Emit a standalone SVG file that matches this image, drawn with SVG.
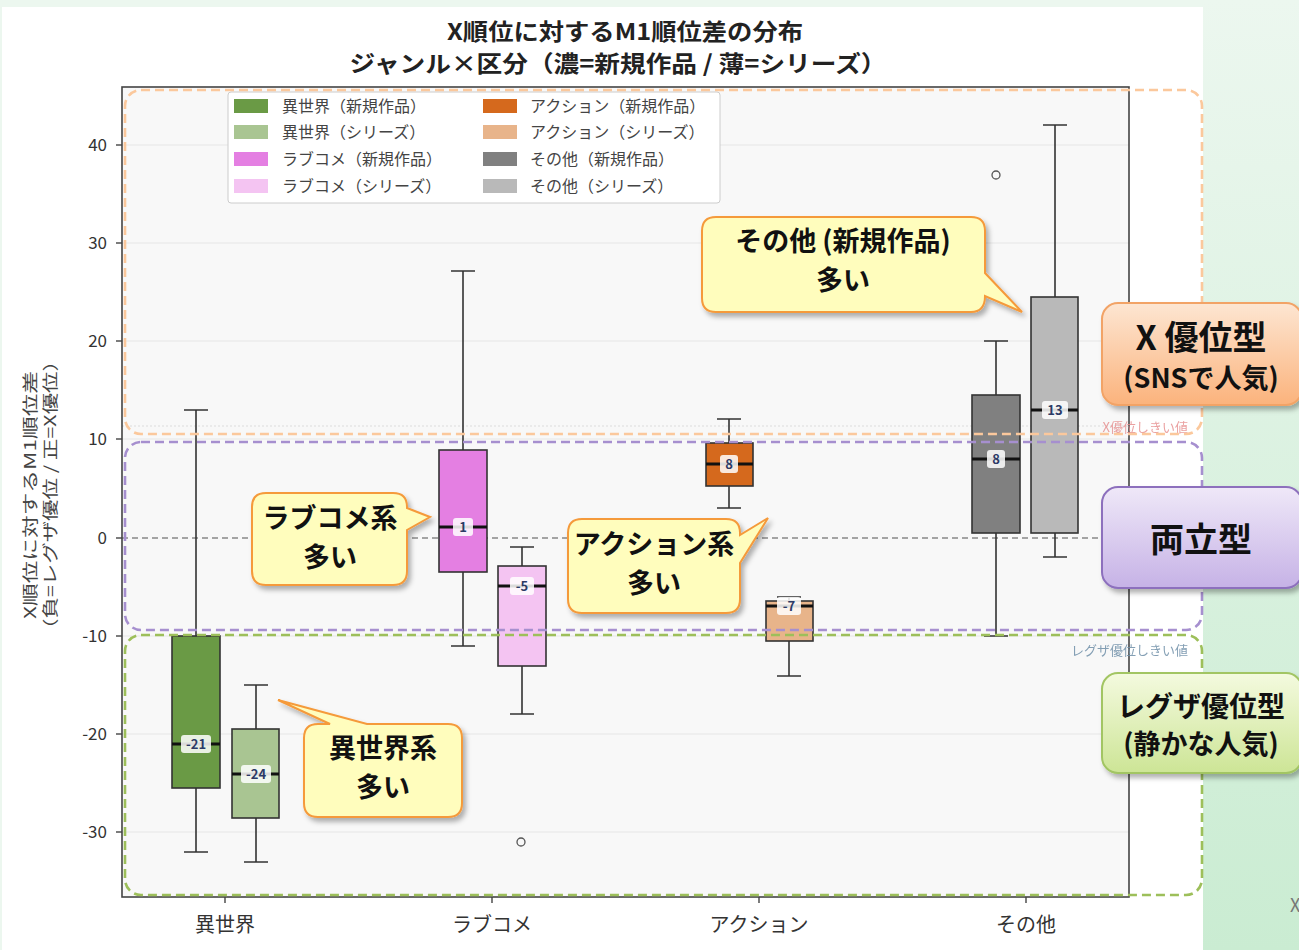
<svg xmlns="http://www.w3.org/2000/svg" width="1299" height="950" viewBox="0 0 1299 950">
<defs>
<linearGradient id="gPanel" x1="0" y1="0" x2="0" y2="1"><stop offset="0" stop-color="#ecf7ef"/><stop offset="1" stop-color="#caecd2"/></linearGradient>
<linearGradient id="gX" x1="0" y1="0" x2="0" y2="1"><stop offset="0" stop-color="#fde6d2"/><stop offset="1" stop-color="#fbb37c"/></linearGradient>
<linearGradient id="gB" x1="0" y1="0" x2="0" y2="1"><stop offset="0" stop-color="#efe8f8"/><stop offset="1" stop-color="#c6b2e6"/></linearGradient>
<linearGradient id="gR" x1="0" y1="0" x2="0" y2="1"><stop offset="0" stop-color="#f4fadf"/><stop offset="1" stop-color="#cde596"/></linearGradient>
<filter id="sh" x="-10%" y="-10%" width="130%" height="140%"><feDropShadow dx="3" dy="4" stdDeviation="2.5" flood-color="#000" flood-opacity="0.3"/></filter>
<style>
text{font-family:"Noto Sans CJK JP","Noto Sans",sans-serif}
.title{font-size:23px;font-weight:700;fill:#222;text-anchor:middle}
.tick{font-size:17px;fill:#333;text-anchor:end}
.xt{font-size:20px;fill:#333;text-anchor:middle}
.yl{font-size:16px;fill:#444;text-anchor:middle}
.lg{font-size:16px;fill:#444}
.grid{stroke:#e6e6e6;stroke-width:1.2}
.spine{stroke:#444;stroke-width:1.6;fill:none}
.box{stroke:#333;stroke-width:1.6}
.wh{stroke:#333;stroke-width:1.6;fill:none}
.med{stroke:#111;stroke-width:3.2}
.ml{fill:#fff;fill-opacity:0.85}
.mt{font-size:13px;font-weight:700;fill:#2c3a66;text-anchor:middle}
.zone{fill:none;stroke-width:2.6;stroke-dasharray:9 5}
.co{fill:#fffdbd;stroke:#f59a3a;stroke-width:2;filter:url(#sh)}
.cot{font-size:27px;font-weight:700;fill:#111;text-anchor:middle}
.rl{font-weight:700;fill:#111;text-anchor:middle}
</style>
</defs>
<rect x="0" y="0" width="1299" height="950" fill="#ecf7ef"/>
<rect x="1203" y="0" width="96" height="950" fill="url(#gPanel)"/>
<rect x="2" y="7" width="1201" height="943" fill="#ffffff"/>
<text x="1290" y="912" style="font-size:18px;fill:#777">X</text>

<g id="title">
<text class="title" x="625" y="40" textLength="356" lengthAdjust="spacingAndGlyphs">X順位に対するM1順位差の分布</text>
<text class="title" x="618" y="72" textLength="537" lengthAdjust="spacingAndGlyphs">ジャンル×区分（濃=新規作品 / 薄=シリーズ）</text>
</g>

<g id="axes">
<rect x="122" y="87" width="1007" height="810" fill="#f8f8f8"/>
<g class="grid">
<line x1="122" y1="145" x2="1129" y2="145"/><line x1="122" y1="243" x2="1129" y2="243"/>
<line x1="122" y1="341" x2="1129" y2="341"/><line x1="122" y1="439" x2="1129" y2="439"/>
<line x1="122" y1="636" x2="1129" y2="636"/><line x1="122" y1="734" x2="1129" y2="734"/>
<line x1="122" y1="832" x2="1129" y2="832"/>
</g>
<line x1="122" y1="426" x2="1129" y2="426" stroke="#dcdcdc" stroke-width="1.2" stroke-dasharray="2 2"/>
<line x1="122" y1="538" x2="1129" y2="538" stroke="#888" stroke-width="1.4" stroke-dasharray="6 4"/>
<rect class="spine" x="122" y="87" width="1007" height="810"/>
<g stroke="#444" stroke-width="1.4">
<line x1="116" y1="145" x2="122" y2="145"/><line x1="116" y1="243" x2="122" y2="243"/>
<line x1="116" y1="341" x2="122" y2="341"/><line x1="116" y1="439" x2="122" y2="439"/>
<line x1="116" y1="538" x2="122" y2="538"/><line x1="116" y1="636" x2="122" y2="636"/>
<line x1="116" y1="734" x2="122" y2="734"/><line x1="116" y1="832" x2="122" y2="832"/>
<line x1="225" y1="897" x2="225" y2="903"/><line x1="492" y1="897" x2="492" y2="903"/>
<line x1="759" y1="897" x2="759" y2="903"/><line x1="1026" y1="897" x2="1026" y2="903"/>
</g>
<text class="tick" x="107" y="151">40</text>
<text class="tick" x="107" y="249">30</text>
<text class="tick" x="107" y="347">20</text>
<text class="tick" x="107" y="445">10</text>
<text class="tick" x="107" y="544">0</text>
<text class="tick" x="107" y="642">-10</text>
<text class="tick" x="107" y="740">-20</text>
<text class="tick" x="107" y="838">-30</text>
<text class="xt" x="225" y="932">異世界</text>
<text class="xt" x="492" y="932">ラブコメ</text>
<text class="xt" x="759" y="932">アクション</text>
<text class="xt" x="1026" y="932">その他</text>
<g transform="translate(36,495) rotate(-90)">
<text class="yl" x="0" y="0" textLength="248" lengthAdjust="spacingAndGlyphs">X順位に対するM1順位差</text>
<text class="yl" x="0" y="20" textLength="290" lengthAdjust="spacingAndGlyphs">（負=レグザ優位 / 正=X優位）</text>
</g>
<text x="1188" y="432" style="font-size:13px;fill:#e58a8a;text-anchor:end" opacity="0.8">X優位しきい値</text>
<text x="1188" y="655" style="font-size:13px;fill:#6f8fa8;text-anchor:end" opacity="0.85">レグザ優位しきい値</text>
</g>

<g id="legend">
<rect x="228" y="92" width="492" height="111" fill="#fff" stroke="#ccc" stroke-width="1" rx="3"/>
<rect x="234" y="99" width="34" height="14" fill="#6a9a45"/><text class="lg" x="282" y="112">異世界（新規作品）</text>
<rect x="234" y="125" width="34" height="14" fill="#a9c592"/><text class="lg" x="282" y="138">異世界（シリーズ）</text>
<rect x="234" y="152" width="34" height="14" fill="#e47fe2"/><text class="lg" x="282" y="165">ラブコメ（新規作品）</text>
<rect x="234" y="179" width="34" height="14" fill="#f4c4f2"/><text class="lg" x="282" y="192">ラブコメ（シリーズ）</text>
<rect x="483" y="99" width="34" height="14" fill="#d5691d"/><text class="lg" x="530" y="112">アクション（新規作品）</text>
<rect x="483" y="125" width="34" height="14" fill="#e8b48a"/><text class="lg" x="530" y="138">アクション（シリーズ）</text>
<rect x="483" y="152" width="34" height="14" fill="#808080"/><text class="lg" x="530" y="165">その他（新規作品）</text>
<rect x="483" y="179" width="34" height="14" fill="#b9b9b9"/><text class="lg" x="530" y="192">その他（シリーズ）</text>
</g>

<g id="boxes">
<g id="isekai-new">
<path class="wh" d="M196,410V636M196,788V852M184,410H208M184,852H208"/>
<rect class="box" x="172" y="636" width="48" height="152" fill="#6a9a45"/>
<line class="med" x1="172" y1="744" x2="220" y2="744"/>
<rect class="ml" x="181" y="735" width="30" height="18" rx="3"/><text class="mt" x="196" y="749">-21</text>
</g>
<g id="isekai-series">
<path class="wh" d="M256,685V729M256,818V862M244,685H268M244,862H268"/>
<rect class="box" x="232" y="729" width="47" height="89" fill="#a9c592"/>
<line class="med" x1="232" y1="774" x2="279" y2="774"/>
<rect class="ml" x="241" y="765" width="30" height="18" rx="3"/><text class="mt" x="256" y="779">-24</text>
</g>
<g id="lovecome-new">
<path class="wh" d="M463,271V450M463,572V646M451,271H475M451,646H475"/>
<rect class="box" x="439" y="450" width="48" height="122" fill="#e47fe2"/>
<line class="med" x1="439" y1="527" x2="487" y2="527"/>
<rect class="ml" x="453" y="518" width="20" height="18" rx="3"/><text class="mt" x="463" y="532">1</text>
</g>
<g id="lovecome-series">
<path class="wh" d="M522,547V566M522,666V714M510,547H534M510,714H534"/>
<rect class="box" x="498" y="566" width="48" height="100" fill="#f4c4f2"/>
<line class="med" x1="498" y1="586" x2="546" y2="586"/>
<rect class="ml" x="510" y="577" width="24" height="18" rx="3"/><text class="mt" x="522" y="591">-5</text>
<circle cx="521" cy="842" r="4" fill="none" stroke="#555" stroke-width="1.3"/>
</g>
<g id="action-new">
<path class="wh" d="M729,419V443M729,486V508M717,419H741M717,508H741"/>
<rect class="box" x="706" y="443" width="47" height="43" fill="#d5691d"/>
<line class="med" x1="706" y1="464" x2="753" y2="464"/>
<rect class="ml" x="720" y="455" width="18" height="18" rx="3"/><text class="mt" x="729" y="469">8</text>
</g>
<g id="action-series">
<path class="wh" d="M789,597V601M789,641V676M777,597H801M777,676H801"/>
<rect class="box" x="766" y="601" width="47" height="40" fill="#e8b48a"/>
<line class="med" x1="766" y1="606" x2="813" y2="606"/>
<rect class="ml" x="777" y="597" width="24" height="18" rx="3"/><text class="mt" x="789" y="611">-7</text>
</g>
<g id="other-new">
<path class="wh" d="M996,341V395M996,533V636M984,341H1008M984,636H1008"/>
<rect class="box" x="972" y="395" width="48" height="138" fill="#808080"/>
<line class="med" x1="972" y1="459" x2="1020" y2="459"/>
<rect class="ml" x="987" y="450" width="18" height="18" rx="3"/><text class="mt" x="996" y="464">8</text>
<circle cx="996" cy="175" r="4" fill="none" stroke="#555" stroke-width="1.3"/>
</g>
<g id="other-series">
<path class="wh" d="M1055,125V297M1055,533V557M1043,125H1067M1043,557H1067"/>
<rect class="box" x="1031" y="297" width="47" height="236" fill="#b9b9b9"/>
<line class="med" x1="1031" y1="410" x2="1078" y2="410"/>
<rect class="ml" x="1042" y="401" width="26" height="18" rx="3"/><text class="mt" x="1055" y="415">13</text>
</g>
</g>

<g id="zones">
<rect id="zone-x" class="zone" x="125" y="90" width="1077" height="344" rx="16" stroke="#fbc89c"/>
<rect id="zone-both" class="zone" x="125" y="442" width="1077" height="188" rx="16" stroke="#a68fcf"/>
<rect id="zone-regza" class="zone" x="125" y="635" width="1077" height="260" rx="16" stroke="#9dbf5a"/>
</g>

<g id="connectors">
</g>

<g id="callout-other">
<path class="co" d="M716,217H971Q985,217 985,231V273L1022,312L985,296Q985,312 971,312H716Q702,312 702,298V231Q702,217 716,217Z"/>
<text class="cot" x="843" y="251">その他 (新規作品)</text>
<text class="cot" x="843" y="290">多い</text>
</g>
<g id="callout-lovecome">
<path class="co" d="M266,493H393Q407,493 407,507V508L430,517L407,530V571Q407,585 393,585H266Q252,585 252,571V507Q252,493 266,493Z"/>
<text class="cot" x="330" y="528">ラブコメ系</text>
<text class="cot" x="330" y="567">多い</text>
</g>
<g id="callout-action">
<path class="co" d="M582,519H726Q740,519 740,533V535L768,518L740,563V599Q740,613 726,613H582Q568,613 568,599V533Q568,519 582,519Z"/>
<text class="cot" x="654" y="554">アクション系</text>
<text class="cot" x="654" y="593">多い</text>
</g>
<g id="callout-isekai">
<path class="co" d="M318,724H330L278,700L367,724H448Q462,724 462,738V803Q462,817 448,817H318Q304,817 304,803V738Q304,724 318,724Z"/>
<text class="cot" x="383" y="758">異世界系</text>
<text class="cot" x="383" y="797">多い</text>
</g>

<g id="label-x">
<rect x="1102" y="303" width="200" height="102" rx="16" fill="url(#gX)" stroke="#f2a366" stroke-width="2" filter="url(#sh)"/>
<text class="rl" x="1201" y="350" style="font-size:34px">X 優位型</text>
<text class="rl" x="1201" y="388" style="font-size:27px">(SNSで人気)</text>
</g>
<g id="label-both">
<rect x="1102" y="487" width="200" height="101" rx="16" fill="url(#gB)" stroke="#8d70bd" stroke-width="2" filter="url(#sh)"/>
<text class="rl" x="1201" y="552" style="font-size:34px">両立型</text>
</g>
<g id="label-regza">
<rect x="1102" y="673" width="200" height="100" rx="16" fill="url(#gR)" stroke="#a2c563" stroke-width="2" filter="url(#sh)"/>
<text class="rl" x="1201" y="717" style="font-size:28px">レグザ優位型</text>
<text class="rl" x="1201" y="754" style="font-size:27px">(静かな人気)</text>
</g>
</svg>
